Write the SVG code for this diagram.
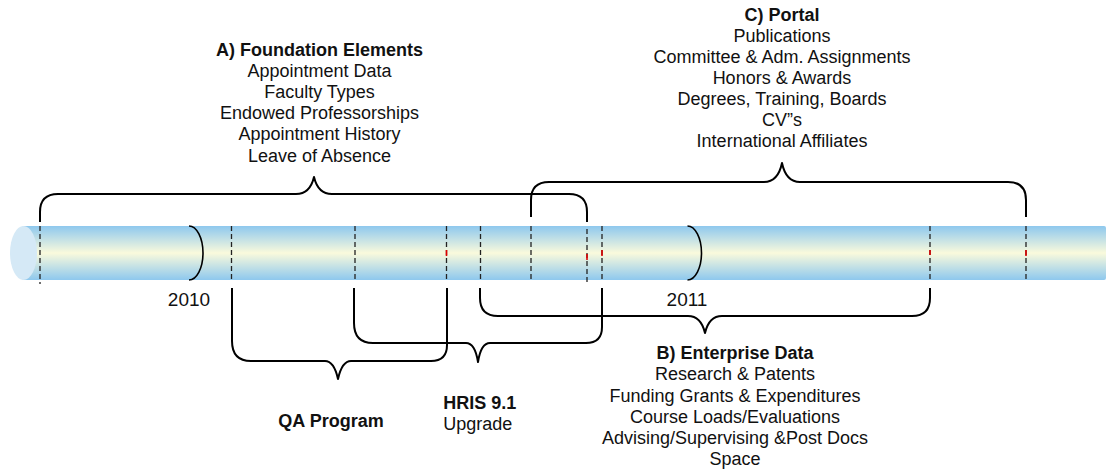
<svg xmlns="http://www.w3.org/2000/svg" width="1106" height="471" viewBox="0 0 1106 471">
<defs>
<linearGradient id="tube" x1="0" y1="0" x2="0" y2="1">
<stop offset="0" stop-color="#8ec8ee"/>
<stop offset="0.5" stop-color="#fafadc"/>
<stop offset="1" stop-color="#8ec8ee"/>
</linearGradient>
<style>
text{font-family:"Liberation Sans",Arial,sans-serif;font-size:18px;fill:#111;}
.b{font-weight:bold;}
.m{text-anchor:middle;}
.br{fill:none;stroke:#000;stroke-width:2;stroke-linejoin:round;}
.yr{fill:none;stroke:#000;stroke-width:1.6;}
.d{stroke:#222;stroke-width:1.3;stroke-dasharray:5 3;}
.r{stroke:#e00000;stroke-width:1.6;}
</style>
</defs>
<rect width="1106" height="471" fill="#fff"/>
<g id="timeline">
<rect x="22" y="226" width="1084" height="54" rx="2" fill="url(#tube)"/>
<ellipse cx="23.5" cy="253" rx="13.5" ry="27" fill="#d5e9f6"/>
<path class="yr" d="M189 226 A14 27 0 0 1 189 280"/>
<path class="yr" d="M687.5 226 A14 27 0 0 1 687.5 280"/>
<line class="d" x1="40" y1="226" x2="40" y2="284"/>
<line class="d" x1="231.5" y1="226" x2="231.5" y2="280"/>
<line class="d" x1="355" y1="226" x2="355" y2="280"/>
<line class="d" x1="446.5" y1="226" x2="446.5" y2="280"/>
<line class="d" x1="480.5" y1="226" x2="480.5" y2="280"/>
<line class="d" x1="531" y1="226" x2="531" y2="280"/>
<line class="d" x1="587" y1="229" x2="587" y2="285"/>
<line class="d" x1="602" y1="226" x2="602" y2="280"/>
<line class="d" x1="930" y1="226" x2="930" y2="280"/>
<line class="d" x1="1026" y1="226" x2="1026" y2="280"/>
<line class="r" x1="446.5" y1="250" x2="446.5" y2="256"/>
<line class="r" x1="587" y1="254" x2="587" y2="260"/>
<line class="r" x1="602" y1="250" x2="602" y2="256"/>
<line class="r" x1="930" y1="250" x2="930" y2="255"/>
<line class="r" x1="1026" y1="250" x2="1026" y2="256"/>
</g>
<g id="connectors">
<path class="br" d="M40 222 V212 Q40 194 58 194 H296 Q310 194 314 177 Q318 194 332 194 H569 Q587 194 587 212 V222"/>
<path class="br" d="M531 217 V200 Q531 182 549 182 H764 Q778 182 782 163 Q786 182 800 182 H1008 Q1026 182 1026 200 V217"/>
<path class="br" d="M480 288 V298 Q480 316 498 316 H688 Q701 316 705 333 Q709 316 722 316 H912 Q930 316 930 298 V288"/>
<path class="br" d="M232 288 V341 Q232 361 251 361 H325 Q334 361 338 379 Q342 361 351 361 H431 Q447 361 447 345 V288"/>
<path class="br" d="M354 288 V323 Q354 343 373 343 H466 Q475 343 478 362 Q481 343 490 343 H586 Q602 343 602 327 V288"/>
</g>
<g id="year2010"><text class="m" x="189" y="306" style="font-size:19px">2010</text></g>
<g id="year2011"><text class="m" x="687" y="306" style="font-size:19px">2011</text></g>
<g id="nodeA">
<text class="m b" x="319.5" y="56">A) Foundation Elements</text>
<text class="m" x="319.5" y="77.1">Appointment Data</text>
<text class="m" x="319.5" y="98.2">Faculty Types</text>
<text class="m" x="319.5" y="119.3">Endowed Professorships</text>
<text class="m" x="319.5" y="140.4">Appointment History</text>
<text class="m" x="319.5" y="161.5">Leave of Absence</text>
</g>
<g id="nodeC">
<text class="m b" x="782" y="21.2">C) Portal</text>
<text class="m" x="782" y="42.1">Publications</text>
<text class="m" x="782" y="63">Committee &amp; Adm. Assignments</text>
<text class="m" x="782" y="83.9">Honors &amp; Awards</text>
<text class="m" x="782" y="104.8">Degrees, Training, Boards</text>
<text class="m" x="782" y="125.7">CV”s</text>
<text class="m" x="782" y="146.6">International Affiliates</text>
</g>
<g id="nodeB">
<text class="m b" x="735" y="359.3">B) Enterprise Data</text>
<text class="m" x="735" y="380.4">Research &amp; Patents</text>
<text class="m" x="735" y="401.5">Funding Grants &amp; Expenditures</text>
<text class="m" x="735" y="422.6">Course Loads/Evaluations</text>
<text class="m" x="735" y="443.7">Advising/Supervising &amp;Post Docs</text>
<text class="m" x="735" y="464.8">Space</text>
</g>
<g id="nodeQA"><text class="m b" x="331" y="427">QA Program</text></g>
<g id="nodeHRIS">
<text class="b" x="443.3" y="409">HRIS 9.1</text>
<text x="443.3" y="430">Upgrade</text>
</g>
</svg>
